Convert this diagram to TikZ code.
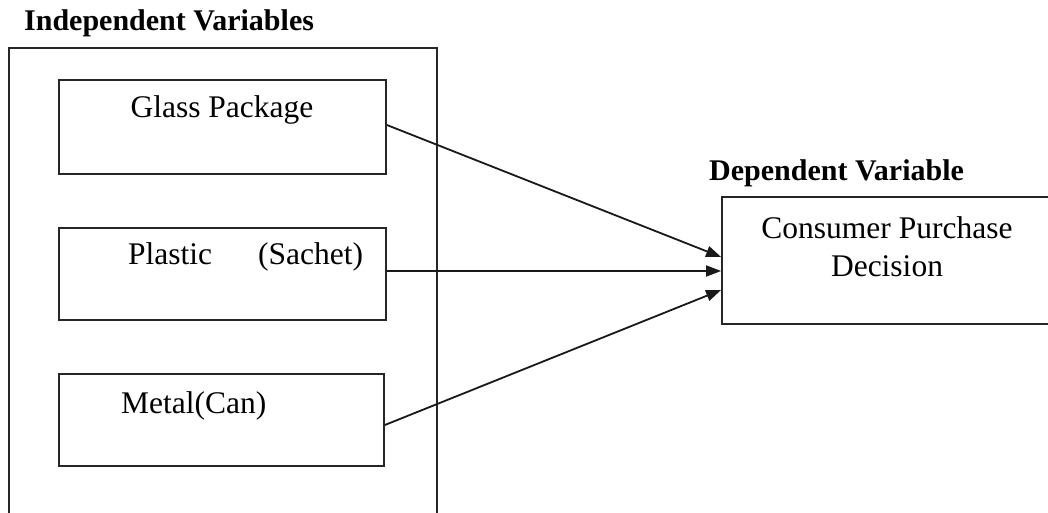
\documentclass[tikz,border=0pt]{standalone}
\usepackage{fontspec}
\setmainfont{Liberation Serif}
\usetikzlibrary{arrows.meta}
\tikzset{
  box/.style={draw=black!85, line width=1.8bp, rectangle, inner sep=0pt, fill=none},
  txt/.style={inner sep=0pt, font=\fontsize{31.5bp}{37bp}\selectfont},
  ttl/.style={inner sep=0pt, font=\fontsize{30bp}{36bp}\selectfont\bfseries},
  conn/.style={line width=1.8bp, draw=black!90, -{Triangle[length=15bp,width=11bp]}}
}
\begin{document}
\begin{tikzpicture}[x=1bp,y=-1bp]
\useasboundingbox (0,0) rectangle (1048,513);
\clip (0,0) rectangle (1048,513);
\fill[white] (0,0) rectangle (1048,513);
% outer group box (open at bottom of picture)
\node[box, minimum width=428bp, minimum height=482bp] (outer) at (223,289) {};
\node[ttl, anchor=base west] (indt) at (24,31) {Independent Variables};
% independent variable boxes
\node[box, minimum width=327bp, minimum height=94bp] (glass) at (222.5,127) {};
\node[box, minimum width=327bp, minimum height=92bp] (plastic) at (222.5,274) {};
\node[box, minimum width=325bp, minimum height=92bp] (metal) at (221.5,420) {};
\node[txt, anchor=base] (glasst) at (222,118) {Glass Package};
\node[txt, anchor=base west] (plastict) at (128,265) {Plastic\hspace{46bp}(Sachet)};
\node[txt, anchor=base west] (metalt) at (121,413) {Metal(Can)};
% dependent variable
\node[ttl, anchor=base west] (dept) at (709,181) {Dependent Variable};
\node[box, minimum width=348bp, minimum height=127bp] (cons) at (896,260.5) {};
\node[txt, anchor=base] (const1) at (887,239) {Consumer Purchase};
\node[txt, anchor=base] (const2) at (887,277) {Decision};
% connector end points
\coordinate (g1) at ([yshift=2bp]glass.east);
\coordinate (p1) at ([yshift=3bp]plastic.east);
\coordinate (m1) at ([yshift=-5bp]metal.east);
\coordinate (c1) at ([yshift=3.5bp]cons.west);
\coordinate (c2) at ([yshift=-10.5bp]cons.west);
\coordinate (c3) at ([yshift=-29.5bp]cons.west);
\draw[conn] (g1) -- (c1);
\draw[conn] (p1) -- (c2);
\draw[conn] (m1) -- (c3);
\end{tikzpicture}
\end{document}
